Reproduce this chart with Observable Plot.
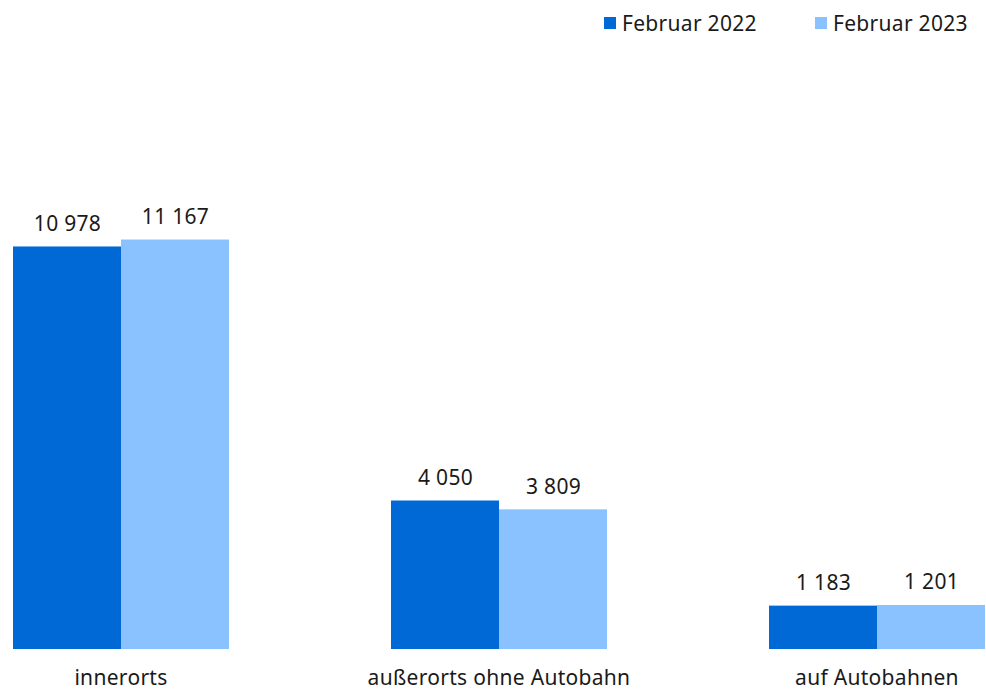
<!DOCTYPE html>
<html><head><meta charset="utf-8">
<script src="https://cdn.jsdelivr.net/npm/d3@7"></script>
<script src="https://cdn.jsdelivr.net/npm/@observablehq/plot@0.6"></script>
<style>
body{margin:0;background:#fff;font-family:"Noto Sans",sans-serif;color:#1a1a1a;}
#legend{position:relative;height:48px;width:986px;font-size:21px;letter-spacing:0.3px;}
.item{position:absolute;top:9px;display:flex;align-items:center;}
.sw{width:12px;height:12px;margin-right:6px;}
</style></head>
<body>
<div id="legend"></div>
<div id="chart"></div>
<script>
const categories = ["innerorts", "außerorts ohne Autobahn", "auf Autobahnen"];
const series = ["Februar 2022", "Februar 2023"];
const values2022 = [10978, 4050, 1183];
const values2023 = [11167, 3809, 1201];
const colors = ["#0069d6", "#8ac2ff"];

const data = [];
categories.forEach((c, i) => {
  data.push({cat: c, series: series[0], value: values2022[i]});
  data.push({cat: c, series: series[1], value: values2023[i]});
});

const locale = d3.formatLocale({decimal: ",", thousands: " ", grouping: [3], currency: ["", " €"]});
const fmt = locale.format(",d");

const legend = document.getElementById("legend");
const lx = [604, 815];
series.forEach((s, i) => {
  const d = document.createElement("div");
  d.className = "item";
  d.style.left = lx[i] + "px";
  d.innerHTML = `<span class="sw" style="background:${colors[i]}"></span><span>${s}</span>`;
  legend.appendChild(d);
});

const chart = Plot.plot({
  width: 986,
  height: 642,
  marginLeft: 11,
  marginRight: 0,
  marginTop: 161,
  marginBottom: 41,
  style: {fontFamily: "Noto Sans, sans-serif", fontSize: "21px", color: "#1a1a1a", letterSpacing: "0.3px"},
  fx: {domain: categories, paddingInner: 0.4248, paddingOuter: 0, label: null, axis: "bottom", tickSize: 0, tickPadding: 21},
  x: {domain: series, padding: 0, axis: null},
  y: {domain: [0, 12000], axis: null},
  color: {domain: series, range: colors},
  marks: [
    Plot.barY(data, {fx: "cat", x: "series", y: "value", fill: "series", inset: 0}),
    Plot.text(data, {fx: "cat", x: "series", y: "value", text: d => fmt(d.value), lineAnchor: "bottom", dy: -16, fontSize: 21, fill: "#1a1a1a"})
  ]
});
document.getElementById("chart").appendChild(chart);
</script>
</body></html>
